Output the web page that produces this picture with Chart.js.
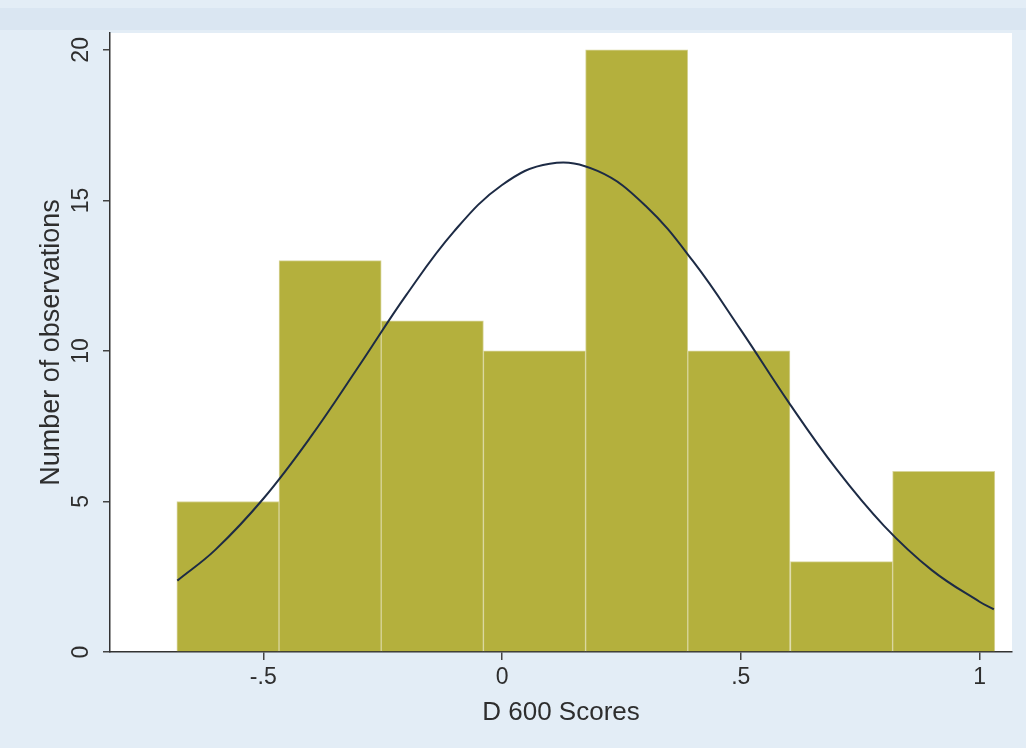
<!DOCTYPE html>
<html>
<head>
<meta charset="utf-8">
<title>D 600 Scores histogram</title>
<script src="https://cdn.jsdelivr.net/npm/chart.js@4/dist/chart.umd.min.js"></script>
<style>
  html, body { margin: 0; padding: 0; background: #e3edf6; }
  #wrap { width: 1026px; height: 748px; }
</style>
</head>
<body>
<div id="wrap"><canvas id="hist" width="1026" height="748"></canvas></div>
<script>
// Histogram bins: centre of each bin and its number of observations
const binCenters = [-0.574, -0.360, -0.146, 0.068, 0.282, 0.496, 0.711, 0.925];
const binCounts  = [5, 13, 11, 10, 20, 10, 3, 6];

// Fitted normal density (scaled to counts), sampled along the score axis
const curveX = [-0.68, -0.6, -0.5, -0.4, -0.3, -0.2, -0.1, 0, 0.1, 0.2, 0.3, 0.4, 0.5, 0.6, 0.7, 0.8, 0.9, 1.0, 1.03];
const curveY = [2.37, 3.40, 5.09, 7.16, 9.49, 11.87, 13.98, 15.51, 16.22, 15.98, 14.83, 12.98, 10.70, 8.30, 6.08, 4.19, 2.72, 1.67, 1.42];

// Axis ticks
const xTickValues = [-0.5, 0, 0.5, 1];
const xTickLabels = ['-.5', '0', '.5', '1'];
const yTickValues = [0, 5, 10, 15, 20];
const yTickLabels = ['0', '5', '10', '15', '20'];

const FONT = "'Liberation Sans', Arial, sans-serif";
const TEXT = '#2e2e2e';

// Page and plot-region backgrounds
const backdrop = {
  id: 'backdrop',
  beforeDraw(chart) {
    const { ctx, chartArea: a, width, height } = chart;
    ctx.save();
    ctx.fillStyle = '#e3edf6';
    ctx.fillRect(0, 0, width, height);
    ctx.fillStyle = '#dae6f2';
    ctx.fillRect(0, 8, width, 22);
    ctx.fillStyle = '#ffffff';
    ctx.fillRect(a.left, a.top, a.right - a.left, a.bottom - a.top);
    ctx.restore();
  }
};

new Chart(document.getElementById('hist'), {
  data: {
    datasets: [
      {
        type: 'line',
        order: 0,
        data: curveX.map((x, i) => ({ x, y: curveY[i] })),
        borderColor: '#1d2b45',
        borderWidth: 2,
        pointRadius: 0,
        tension: 0.4,
        fill: false
      },
      {
        type: 'bar',
        order: 1,
        data: binCenters.map((x, i) => ({ x, y: binCounts[i] })),
        backgroundColor: '#b4b03d',
        borderColor: '#d8d59a',
        borderWidth: 1,
        barPercentage: 1,
        categoryPercentage: 1
      }
    ]
  },
  options: {
    responsive: false,
    animation: false,
    events: [],
    layout: { padding: { top: 33, right: 14, bottom: 0, left: 0 } },
    plugins: { legend: { display: false }, tooltip: { enabled: false } },
    scales: {
      x: {
        type: 'linear',
        offset: false,
        min: -0.821,
        max: 1.068,
        afterBuildTicks: s => { s.ticks = xTickValues.map(v => ({ value: v })); },
        afterFit: s => { s.height = 96; },
        ticks: {
          callback: (v, i) => xTickLabels[i],
          color: TEXT,
          font: { family: FONT, size: 23 },
          padding: 4,
          maxRotation: 0,
          autoSkip: false
        },
        grid: { offset: false, drawOnChartArea: false, drawTicks: true, tickLength: 8, color: '#444', lineWidth: 1.5 },
        border: { display: true, color: '#333', width: 1.5 },
        title: {
          display: true,
          text: 'D 600 Scores',
          color: TEXT,
          font: { family: FONT, size: 26 },
          padding: { top: 0, bottom: 20 }
        }
      },
      y: {
        type: 'linear',
        min: 0,
        max: 20.56,
        afterBuildTicks: s => { s.ticks = yTickValues.map(v => ({ value: v })); },
        afterFit: s => { s.width = 110; },
        ticks: {
          callback: (v, i) => yTickLabels[i],
          color: TEXT,
          font: { family: FONT, size: 23 },
          minRotation: 90,
          maxRotation: 90,
          crossAlign: 'center',
          padding: 9,
          autoSkip: false
        },
        grid: { offset: false, drawOnChartArea: false, drawTicks: true, tickLength: 7, color: '#444', lineWidth: 1.5 },
        border: { display: true, color: '#333', width: 1.5 },
        title: {
          display: true,
          text: 'Number of observations',
          color: TEXT,
          font: { family: FONT, size: 27 },
          padding: { top: 35, bottom: 0 }
        }
      }
    }
  },
  plugins: [backdrop]
});
</script>
</body>
</html>
